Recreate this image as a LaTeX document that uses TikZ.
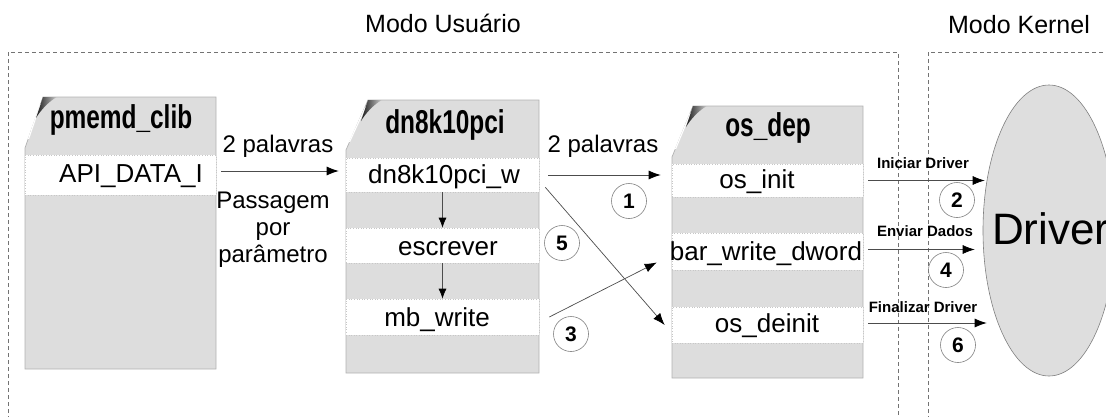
\documentclass[tikz,border=0pt]{standalone}
\usepackage{fontspec}
\setmainfont{Liberation Sans}
\usetikzlibrary{arrows.meta,shapes.geometric,calc}
\definecolor{boxgray}{RGB}{221,221,221}
\definecolor{ellgray}{RGB}{222,222,222}
\newcommand{\nbold}[1]{\scalebox{0.74}[1]{\bfseries #1}}
\begin{document}
\begin{tikzpicture}[x=1pt,y=-1pt,
  frame/.style={draw=black!55, line width=0.6pt, dash pattern=on 4pt off 3pt},
  boxshape/.style={fill=boxgray, draw=black!30, line width=0.7pt},
  rowbox/.style={rectangle, fill=white, draw=black!22, dotted, line width=0.6pt, inner sep=0pt},
  rowtext/.style={font=\fontsize{26}{30}\selectfont, inner sep=0pt, anchor=base},
  titletext/.style={font=\fontsize{33}{36}\selectfont, inner sep=0pt, anchor=base},
  plain/.style={font=\fontsize{24}{28}\selectfont, inner sep=0pt, anchor=base},
  lab/.style={font=\bfseries\fontsize{15}{15}\selectfont, inner sep=0pt, anchor=base},
  circ/.style={circle, draw=black!50, line width=0.6pt, minimum size=35pt, inner sep=0pt, font=\bfseries\fontsize{21}{21}\selectfont},
  arr/.style={draw=black!70, line width=0.7pt, -{Latex[length=12pt,width=9pt,color=black]}},
  varr/.style={draw=black!70, line width=0.7pt, -{Latex[length=10pt,width=8pt,color=black]}},
  curl/.style={left color=black!90, right color=black!20}
]
\useasboundingbox (0,0) rectangle (1106,416);
\clip (0,0) rectangle (1106,416);

% mode frames
\draw[frame] (8,420) -- (8,52) -- (898,52) -- (898,420);
\draw[frame] (928,420) -- (928,52) -- (1110,52);
\node[plain, font=\fontsize{25}{30}\selectfont] (mu) at (443,32) {Modo Usuário};
\node[plain, font=\fontsize{25}{30}\selectfont] (mk) at (1019,33) {Modo Kernel};

% ---- pmemd_clib box
\path[boxshape] (43,97) -- (216,97) -- (216,369) -- (25,369) -- (25,148) -- cycle;
\draw[white, line width=1.2pt] (40.5,104) -- (28.5,139);
\shade[curl] (43,97) -- (57,97) .. controls (49,101) and (40,111) .. (36,118) -- cycle;
\node[titletext] (pmt) at (121,128) {\nbold{pmemd\_clib}};
\node[rowbox, minimum width=191, minimum height=40] (pmr1) at (120.5,175) {};
\node[rowtext] (pmt1) at (131,182) {API\_DATA\_I};

% ---- dn8k10pci box
\path[boxshape] (368,100) -- (539,100) -- (539,373) -- (346,373) -- (346,150) -- cycle;
\draw[white, line width=1.2pt] (365.5,107) -- (349.5,142);
\shade[curl] (368,100) -- (382,100) .. controls (374,104) and (365,114) .. (361,121) -- cycle;
\node[titletext] (dnt) at (445,133) {\nbold{dn8k10pci}};
\node[rowbox, minimum width=193, minimum height=34] (dnr1) at (442.5,175) {};
\node[rowbox, minimum width=193, minimum height=35] (dnr2) at (442.5,245.5) {};
\node[rowbox, minimum width=193, minimum height=36] (dnr3) at (442.5,317) {};
\node[rowtext] (dnt1) at (444,183) {dn8k10pci\_w};
\node[rowtext] (dnt2) at (448,255) {escrever};
\node[rowtext] (dnt3) at (437,326) {mb\_write};

% ---- os_dep box
\path[boxshape] (693,106) -- (863,106) -- (863,378) -- (672,378) -- (672,157) -- cycle;
\draw[white, line width=1.2pt] (690.5,113) -- (675.5,149);
\shade[curl] (693,106) -- (707,106) .. controls (699,110) and (690,120) .. (686,127) -- cycle;
\node[titletext] (ost) at (768,136) {\nbold{os\_dep}};
\node[rowbox, minimum width=191, minimum height=33] (osr1) at (767.5,180.5) {};
\node[rowbox, minimum width=191, minimum height=37] (osr2) at (767.5,251.5) {};
\node[rowbox, minimum width=191, minimum height=36] (osr3) at (767.5,325) {};
\node[rowtext] (ost1) at (757,188) {os\_init};
\node[rowtext] (ost2) at (766,260) {bar\_write\_dword};
\node[rowtext] (ost3) at (767,332) {os\_deinit};

% ---- driver
\node[ellipse, draw=black!50, line width=0.6pt, fill=ellgray, minimum width=132, minimum height=291, inner sep=0pt] (drv) at (1049,230.5) {};
\node[anchor=base west, font=\fontsize{44}{44}\selectfont, inner sep=0pt] (drvt) at (992,244) {Driver};

% ---- connectors
\draw[arr] ([xshift=5pt,yshift=4pt]pmr1.east) -- ([xshift=-7pt,yshift=4pt]pmr1.east -| dnr1.west);
\node[plain] (l1) at (278,152) {2 palavras};
\node[plain, align=center, font=\fontsize{24}{27}\selectfont, anchor=base] (l2) at (273,262) {Passagem\\por\\parâmetro};

\draw[varr] (dnr1.south) -- (dnr2.north);
\draw[varr] (dnr2.south) -- (dnr3.north);

\draw[arr] ([xshift=9pt]dnr1.east) -- ([xshift=-11pt]dnr1.east -| osr1.west);
\node[plain] (l3) at (603,152) {2 palavras};
\node[circ] (c1) at (629,201) {1};

\draw[arr] ([xshift=6pt,yshift=5pt]dnr1.south east) -- ([xshift=-7pt]osr3.west);
\node[circ] (c5) at (562,243) {5};

\draw[arr] ([xshift=10pt]dnr3.east) -- ([xshift=-15pt,yshift=-11pt]osr2.west);
\node[circ] (c3) at (571,334) {3};

\draw[arr] ([xshift=5pt]osr1.east) -- ([xshift=2pt]osr1.east -| drv.west);
\node[lab] (l4) at (923,168) {Iniciar Driver};
\node[circ] (c2) at (957,200) {2};

\draw[arr] ([xshift=5pt,yshift=2pt]osr2.east) -- ([xshift=-8pt,yshift=2pt]osr2.east -| drv.west);
\node[lab] (l5) at (925,236) {Enviar Dados};
\node[circ] (c4) at (946,270) {4};

\draw[arr] ([xshift=5pt,yshift=2pt]osr3.east) -- ([xshift=4pt,yshift=2pt]osr3.east -| drv.west);
\node[lab] (l6) at (923,312) {Finalizar Driver};
\node[circ] (c6) at (958,345) {6};
\end{tikzpicture}
\end{document}
